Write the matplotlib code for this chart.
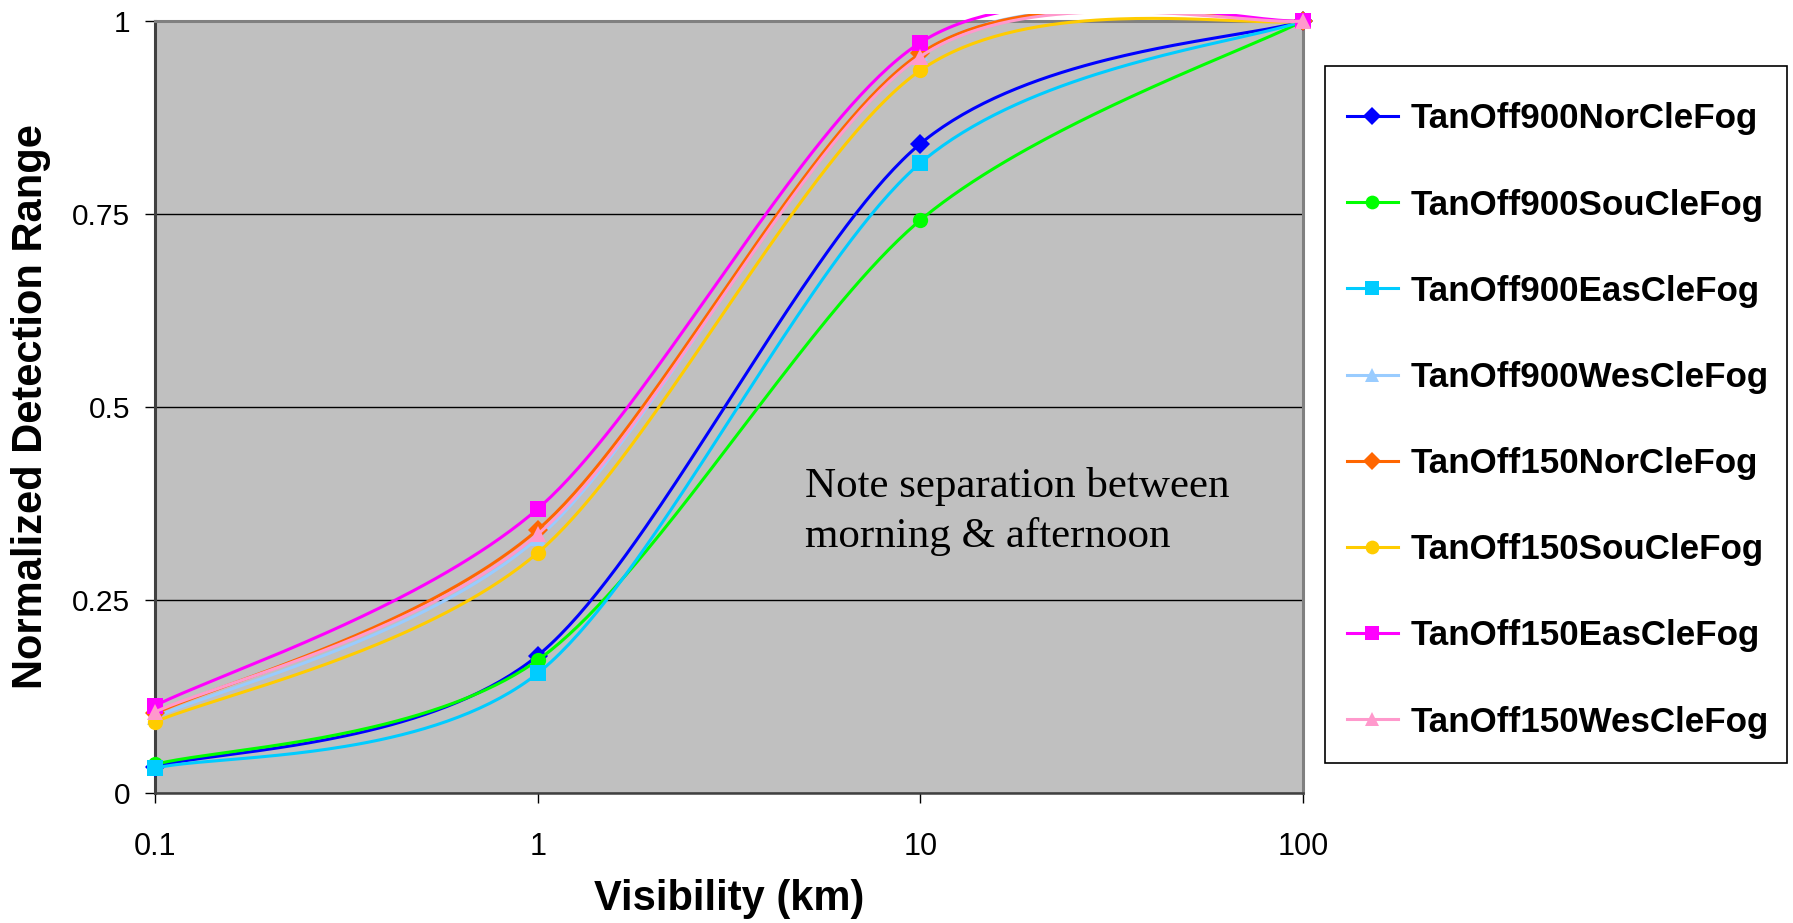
import matplotlib
matplotlib.use('Agg')
import matplotlib.pyplot as plt
from matplotlib.patches import Rectangle
from matplotlib.lines import Line2D
import numpy as np

plt.rcParams['font.family'] = ['Liberation Sans', 'DejaVu Sans']

# data
visibility = [0.1, 1, 10, 100]
labels = ['TanOff900NorCleFog', 'TanOff900SouCleFog', 'TanOff900EasCleFog', 'TanOff900WesCleFog',
          'TanOff150NorCleFog', 'TanOff150SouCleFog', 'TanOff150EasCleFog', 'TanOff150WesCleFog']
nor900 = [0.034, 0.178, 0.841, 1.0]
sou900 = [0.037, 0.172, 0.742, 1.0]
eas900 = [0.032, 0.155, 0.816, 1.0]
wes900 = [0.098, 0.330, 0.958, 1.0]
nor150 = [0.103, 0.341, 0.958, 1.0]
sou150 = [0.092, 0.311, 0.936, 1.0]
eas150 = [0.113, 0.368, 0.972, 1.0]
wes150 = [0.105, 0.335, 0.954, 1.0]
series = [nor900, sou900, eas900, wes900, nor150, sou150, eas150, wes150]

colors = ['#0000FF', '#00FF00', '#00CCFF', '#99CCFF', '#FF6600', '#FFCC00', '#FF00FF', '#FF99CC']
markers = ['D', 'o', 's', '^', 'D', 'o', 's', '^']
msizes = [10, 11, 11, 11, 10, 11, 11, 11]


def smooth(xs, ys, tension=0.9, n=80):
    # excel-like bezier smoothing, done in (log x, y)
    u = np.log10(xs)
    p = np.column_stack([u, ys])
    out = []
    for i in range(len(p) - 1):
        prev = p[i - 1] if i > 0 else p[i]
        nxt = p[i + 2] if i + 2 < len(p) else p[i + 1]
        c1 = p[i] + tension * (p[i + 1] - prev) / 6
        c2 = p[i + 1] - tension * (nxt - p[i]) / 6
        t = np.linspace(0, 1, n)[:, None]
        b = ((1 - t) ** 3 * p[i] + 3 * (1 - t) ** 2 * t * c1
             + 3 * (1 - t) * t ** 2 * c2 + t ** 3 * p[i + 1])
        out.append(b if i == 0 else b[1:])
    b = np.vstack(out)
    return 10 ** b[:, 0], b[:, 1]


fig = plt.figure(figsize=(17.93, 9.23), dpi=100)
ax = fig.add_axes([155 / 1793, 1 - 793 / 923, 1148 / 1793, 772 / 923])
ax.set_facecolor('#C0C0C0')
ax.set_xscale('log')
ax.set_xlim(0.1, 100)
ax.set_ylim(0, 1)

# lines may poke a little above the plot, like the original chart area
clip = Rectangle((-0.02, -0.02), 1.04, 1.02 + 7 / 772, transform=ax.transAxes,
                 facecolor='none', edgecolor='none')
ax.add_patch(clip)

handles = []
for k, ys in enumerate(series):
    sx, sy = smooth(visibility, ys)
    ln, = ax.plot(sx, sy, color=colors[k], lw=2.2, zorder=3 + k * 0.1)
    ln.set_clip_path(clip)
    ax.plot(visibility, ys, linestyle='none', marker=markers[k], ms=msizes[k],
            color=colors[k], mec=colors[k], mew=0, zorder=3.05 + k * 0.1, clip_on=False)
    handles.append(Line2D([], [], color=colors[k], lw=2.2, marker=markers[k],
                          ms=msizes[k] * 0.9, mew=0))

ax.set_yticks([0, 0.25, 0.5, 0.75, 1])
ax.set_yticklabels(['0', '0.25', '0.5', '0.75', '1'])
ax.set_xticks(visibility)
ax.set_xticklabels(['0.1', '1', '10', '100'])
ax.minorticks_off()
ax.tick_params(axis='y', direction='out', length=7, width=1, labelsize=21.5, pad=11)
ax.tick_params(axis='x', direction='out', length=7, width=1, labelsize=22, pad=21)
ax.grid(axis='y', color='black', lw=1)
ax.set_axisbelow(True)

ax.spines['left'].set_color('#404040')
ax.spines['left'].set_linewidth(2.2)
ax.spines['bottom'].set_color('#404040')
ax.spines['bottom'].set_linewidth(1.8)
ax.spines['top'].set_color('#808080')
ax.spines['top'].set_linewidth(2.2)
ax.spines['right'].set_color('#808080')
ax.spines['right'].set_linewidth(2.2)

ax.set_xlabel('Visibility (km)', fontsize=30, fontweight='bold', va='center')
ax.xaxis.set_label_coords(0.5, -(899 - 793) / 772)
ax.set_ylabel('Normalized Detection Range', fontsize=30, fontweight='bold', va='center')
ax.yaxis.set_label_coords(-(155 - 31) / 1148, 0.5)

ax.text(5.0, 0.319, 'Note separation between\nmorning & afternoon', family='Liberation Serif',
        fontsize=31, va='baseline', ha='left', linespacing=1.37)

# legend box
fig.patches.append(Rectangle((1325 / 1793, 1 - 763 / 923), 462 / 1793, 697 / 923,
                             transform=fig.transFigure, facecolor='white',
                             edgecolor='black', lw=1.2))
fig.legend(handles, labels, loc='center left', bbox_to_anchor=(1347 / 1793, 1 - 420.5 / 923),
           frameon=False, borderpad=0, borderaxespad=0,
           prop={'weight': 'bold', 'size': 25.2}, handlelength=1.45, handletextpad=0.37,
           labelspacing=1.52)

fig.savefig('out.png', dpi=100)
